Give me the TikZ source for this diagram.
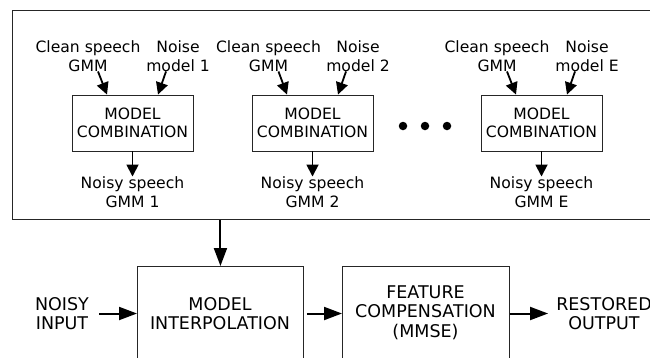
\documentclass[tikz,border=0pt]{standalone}
\usepackage{fontspec}
\setmainfont{DejaVu Sans}
\usetikzlibrary{arrows.meta}
\begin{document}
\begin{tikzpicture}[x=1pt,y=-1pt,
  box/.style={draw=black!85, line width=0.9pt, minimum width=121pt, minimum height=56pt, inner sep=0pt},
  txt/.style={font=\fontsize{15.6}{18.5}\selectfont, align=center, inner sep=0pt},
  btxt/.style={font=\fontsize{17.5}{19.5}\selectfont, align=center, inner sep=0pt},
  bigbox/.style={draw=black!85, line width=0.9pt, anchor=north west, minimum height=140pt, inner sep=0pt},
  arr/.style={line width=1.8pt, -{Triangle[length=12pt,width=12pt]}},
  barr/.style={line width=2pt, -{Triangle[length=18pt,width=13pt]}},
  dot/.style={circle, fill=black, inner sep=0pt, minimum size=8.5pt},
]
\useasboundingbox (0,0) rectangle (650,357);
\clip (0,0) rectangle (650,357);

% outer frame
\node[draw=black!85, line width=0.9pt, minimum width=660pt, minimum height=209pt, anchor=north west, inner sep=0pt] (frame) at (12,10) {};

% model combination blocks
\node[box, txt] (c1) at (132.5,123) {MODEL\\COMBINATION};
\node[box, txt] (c2) at (312.5,123) {MODEL\\COMBINATION};
\node[box, txt] (c3) at (541.5,123) {MODEL\\COMBINATION};

\node[txt] (g1) at (88,56) {Clean speech\\GMM};
\node[txt] (n1) at (178,56) {Noise\\model 1};
\node[txt] (o1) at (132.5,192) {Noisy speech\\GMM 1};

\node[txt] (g2) at (268.5,56) {Clean speech\\GMM};
\node[txt] (n2) at (358,56) {Noise\\model 2};
\node[txt] (o2) at (312.5,192) {Noisy speech\\GMM 2};

\node[txt] (g3) at (497,56) {Clean speech\\GMM};
\node[txt] (n3) at (587,56) {Noise\\model E};
\node[txt] (o3) at (541.5,192) {Noisy speech\\GMM E};

\foreach \i in {1,2,3}{
  \draw[arr] ([xshift=10pt]g\i.south) -- ([xshift=-25.5pt]c\i.north);
  \draw[arr] ([xshift=-12pt]n\i.south) -- ([xshift=25.5pt]c\i.north);
  \draw[arr] (c\i.south) -- (o\i.north);
}

\node[dot] (d1) at (403,126) {};
\node[dot] (d2) at (425,126) {};
\node[dot] (d3) at (447,126) {};

% bottom chain
\node[bigbox, minimum width=166pt] (ibox) at (137,266) {};
\node[bigbox, minimum width=167pt] (fbox) at (342,266) {};
\node[btxt] (itxt) at (220,313.5) {MODEL\\INTERPOLATION};
\node[btxt] (ftxt) at (425.5,312.5) {FEATURE\\COMPENSATION\\(MMSE)};
\node[btxt] (in) at (62,313.5) {NOISY\\INPUT};
\node[btxt] (out) at (604,313.5) {RESTORED\\OUTPUT};

\draw[barr] (frame.south -| ibox.north) -- (ibox.north);
\draw[barr] ([xshift=10pt]in.east) -- (in.east -| ibox.west);
\draw[barr] (itxt.east -| ibox.east) ++(3,0) -- (itxt.east -| fbox.west);
\draw[barr] (itxt.east -| fbox.east) -- ([xshift=-8pt]out.west);
\end{tikzpicture}
\end{document}
